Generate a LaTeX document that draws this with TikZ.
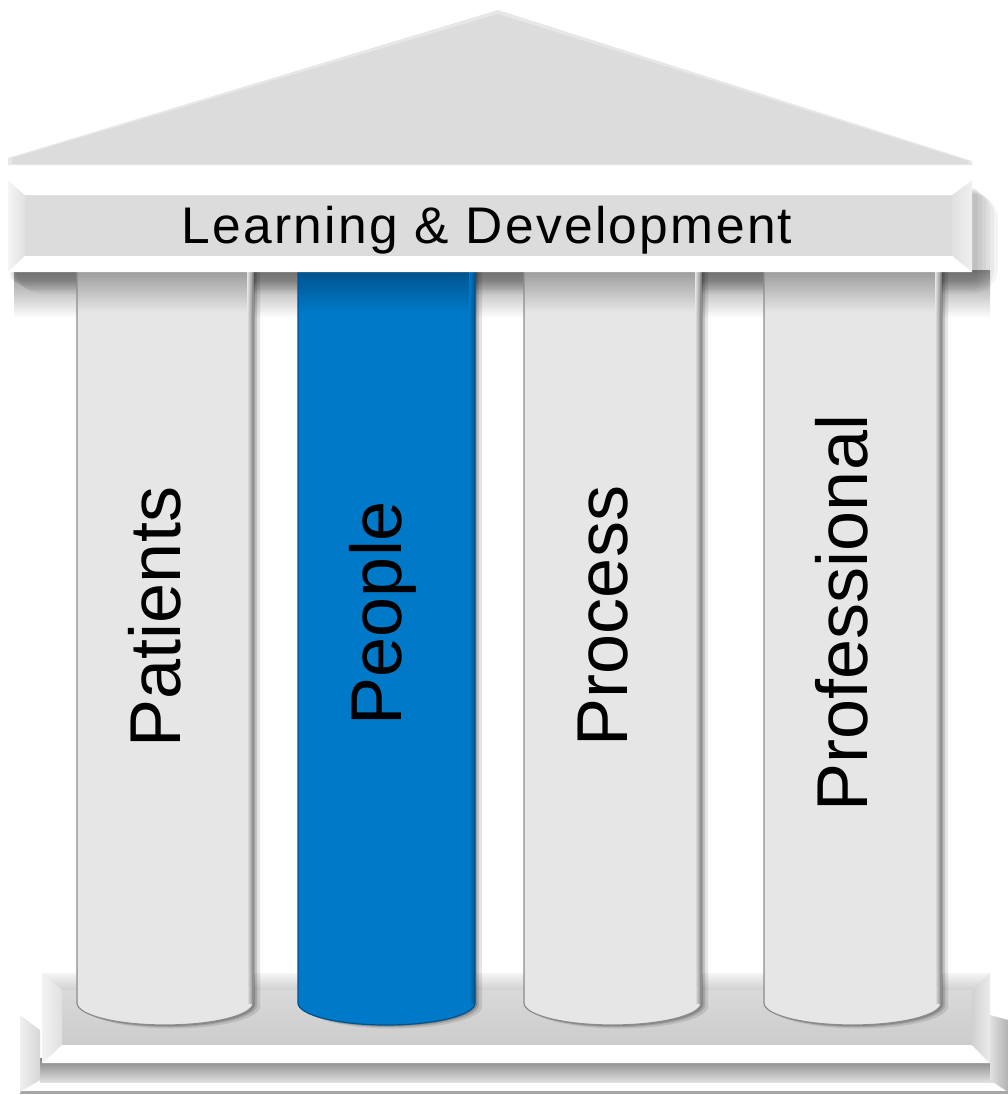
\documentclass[tikz,border=0pt]{standalone}
\usepackage{fontspec}
\setmainfont{Liberation Sans}
\newfontfamily\beamfont[LetterSpace=4.5]{Liberation Sans}
\definecolor{colgray}{HTML}{E6E6E6}
\definecolor{roofgray}{HTML}{DCDCDC}
\definecolor{pblue}{HTML}{0079C8}
\definecolor{pbluedark}{HTML}{00548E}
\definecolor{facegray}{HTML}{DCDCDC}
\definecolor{basegray}{HTML}{D0D0D0}
\definecolor{edgegray}{HTML}{8C8C8C}
\tikzset{
  coltext/.style={inner sep=0pt, rotate=90, anchor=base, font=\fontsize{72}{80}\selectfont, text=black},
  beamtext/.style={inner sep=0pt, anchor=base, font=\beamfont\fontsize{51.5}{60}\selectfont, text=black},
}
\begin{document}
\begin{tikzpicture}[x=1pt,y=-1pt]
\useasboundingbox[fill=white] (0,0) rectangle (1008,1095);

% ---------- roof ----------
\fill[roofgray!70] (8,158) -- (498,10) -- (972,161) -- (972,165) -- (8,165) -- cycle;
\fill[roofgray] (12,158) -- (498,14) -- (968,161) -- (968,164) -- (12,164) -- cycle;

% ---------- shadows under / right of beam ----------
\shade[top color=black!42, bottom color=white] (14,270) rectangle (990,318);
\foreach \o in {26,22,18,14,10,6}{
  \fill[black, opacity=0.045, rounded corners=\o pt] (8+\o*0.3,186+\o*0.3) rectangle (972+\o,278+\o*0.6);
}

% ---------- base: lower slab ----------
\fill[black!35] (20,1091) rectangle (1008,1094);
\fill[white] (20,1080) rectangle (1008,1091);
\shade[top color=black!50, bottom color=black!12] (40,1058) rectangle (1008,1082);
\shade[left color=black!6, right color=black!16] (20,1015) -- (40,1030) -- (40,1080) -- (20,1092) -- cycle;
\shade[left color=black!12, right color=black!30] (990,1015) -- (1008,1020) -- (1008,1092) -- (990,1080) -- cycle;

% ---------- base: upper slab ----------
\fill[black!3] (42,973) rectangle (990,1063);
\shade[top color=black!4, bottom color=basegray] (42,973) -- (990,973) -- (972,990) -- (62,990) -- cycle;
\shade[top color=black!15, bottom color=black!20] (62,990) rectangle (972,1045);
\fill[white] (42,1063) -- (62,1045) -- (972,1045) -- (990,1063) -- cycle;
\shade[left color=black!5, right color=black!12] (42,973) -- (62,990) -- (62,1045) -- (42,1063) -- cycle;
\shade[left color=black!18, right color=black!8] (972,990) -- (990,973) -- (990,1063) -- (972,1045) -- cycle;

% ---------- columns ----------
\foreach \xa/\xb/\fc/\tc/\ec in {77/253/colgray/black!38/edgegray, 298/475/pblue/pbluedark/pbluedark, 524/701/colgray/black!38/edgegray, 764/941/colgray/black!38/edgegray}{
  \pgfmathsetmacro\xm{(\xa+\xb)/2}
  \pgfmathsetmacro\kk{0.5523*(\xb-\xa)/2}
  % soft shadow
  \foreach \s/\o in {7/0.10, 4/0.14, 2/0.18}{
    \fill[black, opacity=\o] (\xa+\s,272) -- (\xa+\s,1003+\s/2) .. controls (\xa+\s,1015+\s/2) and (\xm-\kk+\s,1025+\s/2) .. (\xm+\s,1025+\s/2) .. controls (\xm+\kk+\s,1025+\s/2) and (\xb+\s,1015+\s/2) .. (\xb+\s,1003+\s/2) -- (\xb+\s,272) -- cycle;
  }
  \fill[\fc] (\xa,272) -- (\xa,1003) .. controls (\xa,1015) and (\xm-\kk,1025) .. (\xm,1025) .. controls (\xm+\kk,1025) and (\xb,1015) .. (\xb,1003) -- (\xb,272) -- cycle;
  \shade[top color=\tc, bottom color=\fc] (\xa,272) rectangle (\xb,312);
  \shade[left color=\fc, right color=\ec] (\xb-6,272) rectangle (\xb,1003);
  \draw[\ec, line width=1.2pt] (\xa,272) -- (\xa,1003) .. controls (\xa,1015) and (\xm-\kk,1025) .. (\xm,1025) .. controls (\xm+\kk,1025) and (\xb,1015) .. (\xb,1003) -- (\xb,272);
}

% ---------- beam ----------
\fill[white] (8,180) rectangle (972,272);
\fill[facegray] (25,195) rectangle (952,256);
\shade[left color=black!4, right color=black!12] (8,180) -- (25,195) -- (25,256) -- (8,272) -- cycle;
\shade[left color=black!12, right color=black!6] (952,195) -- (972,180) -- (972,272) -- (952,256) -- cycle;
\fill[white] (8,180) -- (972,180) -- (952,195) -- (25,195) -- cycle;
\fill[white] (8,272) -- (25,256) -- (952,256) -- (972,272) -- cycle;

% ---------- texts ----------
\node[beamtext] (beam) at (487,243) {Learning \& Development};
\node[coltext] (patients) at (180,617) {Patients};
\node[coltext] (people) at (401,613) {People};
\node[coltext] (process) at (627,616) {Process};
\node[coltext] (professional) at (867,613) {Professional};
\end{tikzpicture}
\end{document}
